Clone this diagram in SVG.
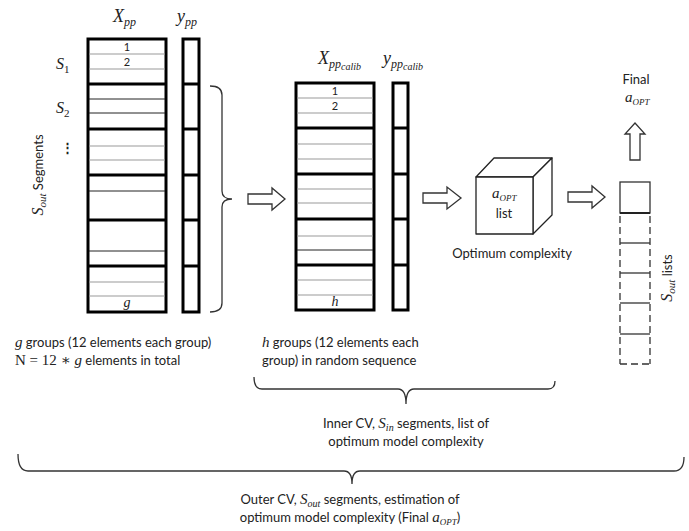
<svg xmlns="http://www.w3.org/2000/svg" width="689" height="531" viewBox="0 0 689 531">
<style>
.t{font-family:Lato,"Liberation Sans",sans-serif;font-size:13px;fill:#222}
.m{font-family:"Liberation Serif","DejaVu Serif",serif;font-style:italic;fill:#222}
.u{font-family:"Liberation Serif","DejaVu Serif",serif;font-style:normal;fill:#222}
.n{font-family:Lato,"Liberation Sans",sans-serif;font-size:11px;fill:#222}
.box{fill:#fff;stroke:#000;stroke-width:3}
.sep{stroke:#000;stroke-width:3}
.thin{stroke:#999;stroke-width:1}
.thd{stroke:#222;stroke-width:1}
.arr{fill:#fff;stroke:#333;stroke-width:1.3}
.br{fill:none;stroke:#333;stroke-width:1.3}
.cube{fill:#fff;stroke:#222;stroke-width:1.3;stroke-linejoin:round}
.dash{stroke:#333;stroke-width:1.3;stroke-dasharray:7,4}
</style>
<rect width="689" height="531" fill="#fff"/>

<g id="labels-left">
<text class="m" x="113" y="22" font-size="18">X<tspan font-size="12" dy="4">pp</tspan></text>
<text class="m" x="177" y="22" font-size="18">y<tspan font-size="12" dy="4">pp</tspan></text>
<text class="m" x="56" y="69" font-size="16">S<tspan class="u" font-size="11" dy="4">1</tspan></text>
<text class="m" x="56" y="113" font-size="16">S<tspan class="u" font-size="11" dy="4">2</tspan></text>
<text class="t" x="67" y="152" text-anchor="middle" font-weight="bold">⋮</text>
<text class="t" transform="translate(43,175) rotate(-90)" text-anchor="middle"><tspan class="m" font-size="16">S</tspan><tspan class="m" font-size="11" dy="3">out</tspan><tspan dy="-3"> Segments</tspan></text>
</g>

<g id="matrix-xpp">
<rect class="box" x="88" y="39" width="78" height="273"/>
<line class="thin" x1="89" y1="54" x2="165" y2="54"/>
<line class="thin" x1="89" y1="69" x2="165" y2="69"/>
<line class="thd" x1="89" y1="99" x2="165" y2="99"/>
<line class="thd" x1="89" y1="113" x2="165" y2="113"/>
<line class="thin" x1="89" y1="146" x2="165" y2="146"/>
<line class="thin" x1="89" y1="160" x2="165" y2="160"/>
<line class="thd" x1="89" y1="191" x2="165" y2="191"/>
<line class="thd" x1="89" y1="251" x2="165" y2="251"/>
<line class="thin" x1="89" y1="282" x2="165" y2="282"/>
<line class="thin" x1="89" y1="296" x2="165" y2="296"/>
<line class="sep" x1="88" y1="84" x2="166" y2="84"/>
<line class="sep" x1="88" y1="129" x2="166" y2="129"/>
<line class="sep" x1="88" y1="175" x2="166" y2="175"/>
<line class="sep" x1="88" y1="220" x2="166" y2="220"/>
<line class="sep" x1="88" y1="266" x2="166" y2="266"/>
<text class="n" x="127" y="51" text-anchor="middle">1</text>
<text class="n" x="127" y="66" text-anchor="middle">2</text>
<text class="m" x="127" y="307" font-size="14" text-anchor="middle">g</text>
</g>

<g id="column-ypp">
<rect class="box" x="183" y="39" width="16" height="273"/>
<line class="sep" x1="183" y1="84" x2="199" y2="84"/>
<line class="sep" x1="183" y1="129" x2="199" y2="129"/>
<line class="sep" x1="183" y1="175" x2="199" y2="175"/>
<line class="sep" x1="183" y1="220" x2="199" y2="220"/>
<line class="sep" x1="183" y1="266" x2="199" y2="266"/>
</g>

<g id="labels-mid">
<text class="m" x="318" y="64" font-size="18">X<tspan font-size="12" dy="4">pp</tspan><tspan font-size="10" dy="2">calib</tspan></text>
<text class="m" x="383" y="64" font-size="18">y<tspan font-size="12" dy="4">pp</tspan><tspan font-size="10" dy="2">calib</tspan></text>
</g>

<g id="matrix-xcalib">
<rect class="box" x="296" y="83" width="78" height="227"/>
<line class="thin" x1="297" y1="98" x2="373" y2="98"/>
<line class="thin" x1="297" y1="113" x2="373" y2="113"/>
<line class="thin" x1="297" y1="144" x2="373" y2="144"/>
<line class="thin" x1="297" y1="159" x2="373" y2="159"/>
<line class="thin" x1="297" y1="189" x2="373" y2="189"/>
<line class="thin" x1="297" y1="203" x2="373" y2="203"/>
<line class="thin" x1="297" y1="236" x2="373" y2="236"/>
<line class="thd" x1="297" y1="250" x2="373" y2="250"/>
<line class="thin" x1="297" y1="280" x2="373" y2="280"/>
<line class="thin" x1="297" y1="295" x2="373" y2="295"/>
<line class="sep" x1="296" y1="128" x2="374" y2="128"/>
<line class="sep" x1="296" y1="174" x2="374" y2="174"/>
<line class="sep" x1="296" y1="219" x2="374" y2="219"/>
<line class="sep" x1="296" y1="265" x2="374" y2="265"/>
<text class="n" x="335" y="95" text-anchor="middle">1</text>
<text class="n" x="335" y="110" text-anchor="middle">2</text>
<text class="m" x="335" y="306" font-size="14" text-anchor="middle">h</text>
</g>

<g id="column-ycalib">
<rect class="box" x="393" y="83" width="15" height="227"/>
<line class="sep" x1="393" y1="128" x2="408" y2="128"/>
<line class="sep" x1="393" y1="174" x2="408" y2="174"/>
<line class="sep" x1="393" y1="219" x2="408" y2="219"/>
<line class="sep" x1="393" y1="265" x2="408" y2="265"/>
</g>

<g id="cube">
<polygon class="cube" points="476,177 494,158 552,158 533,177"/>
<polygon class="cube" points="533,177 552,158 552,215 533,234"/>
<rect class="cube" x="476" y="177" width="57" height="57"/>
<text class="m" x="492" y="198" font-size="15">a<tspan font-size="9" dy="3">OPT</tspan></text>
<text class="t" x="504" y="218" text-anchor="middle">list</text>
<text class="t" x="512" y="258" text-anchor="middle">Optimum complexity</text>
</g>

<g id="sout-lists">
<rect x="620" y="182" width="30" height="31" fill="#fff" stroke="#333" stroke-width="1.3"/>
<line x1="620" y1="213" x2="650" y2="213" stroke="#222" stroke-width="2"/>
<line x1="620" y1="243" x2="650" y2="243" stroke="#333" stroke-width="1.3"/>
<line x1="620" y1="273" x2="650" y2="273" stroke="#333" stroke-width="1.3"/>
<line x1="620" y1="303" x2="650" y2="303" stroke="#333" stroke-width="1.3"/>
<line x1="620" y1="334" x2="650" y2="334" stroke="#333" stroke-width="1.3"/>
<line class="dash" x1="620" y1="216" x2="620" y2="364"/>
<line class="dash" x1="650" y1="216" x2="650" y2="364"/>
<line class="dash" x1="620" y1="364" x2="650" y2="364"/>
<text class="t" transform="translate(672,278) rotate(-90)" text-anchor="middle"><tspan class="m" font-size="16">S</tspan><tspan class="m" font-size="11" dy="3">out</tspan><tspan dy="-3"> lists</tspan></text>
</g>

<g id="final">
<text class="t" x="636" y="84" text-anchor="middle">Final</text>
<text class="m" x="625" y="102" font-size="15">a<tspan font-size="9" dy="3">OPT</tspan></text>
</g>

<g id="connectors">
<path class="br" d="M210,86 Q222,86 222,95 L222,191 Q222,199 232,199 Q222,199 222,207 L222,303 Q222,312 210,312"/>
<path class="arr" d="M248,194 L272,194 L272,188 L285,199 L272,210 L272,204 L248,204 Z"/>
<path class="arr" d="M423,193 L447,193 L447,187 L461,198 L447,209 L447,203 L423,203 Z"/>
<path class="arr" d="M568,192 L592,192 L592,186 L605,197 L592,208 L592,202 L568,202 Z"/>
<path class="arr" d="M630,160 L630,134 L625,134 L635,123 L645,134 L640,134 L640,160 Z"/>
<path class="br" d="M254,377 Q254,389 262,389 L398,389 Q406,389 406,404 Q406,389 414,389 L548,389 Q555,389 555,381"/>
<path class="br" d="M18,454 Q18,471 28,471 L344,471 Q352,471 352,484 Q352,471 360,471 L674,471 Q684,471 684,457"/>
</g>

<g id="captions">
<text class="t" x="15" y="347" font-size="12.6"><tspan class="m" font-size="15">g</tspan> groups (12 elements each group)</text>
<text class="t" x="15" y="365" font-size="12.6"><tspan class="u" font-size="15">N = 12 ∗ </tspan><tspan class="m" font-size="15">g</tspan> elements in total</text>
<text class="t" x="262" y="347"><tspan class="m" font-size="15">h</tspan> groups (12 elements each</text>
<text class="t" x="262" y="365">group) in random sequence</text>
<text class="t" x="406" y="428" text-anchor="middle">Inner CV, <tspan class="m" font-size="15">S</tspan><tspan class="m" font-size="10" dy="3">in</tspan><tspan dy="-3"> segments, list of</tspan></text>
<text class="t" x="406" y="446" text-anchor="middle">optimum model complexity</text>
<text class="t" x="350" y="504" text-anchor="middle">Outer CV, <tspan class="m" font-size="15">S</tspan><tspan class="m" font-size="10" dy="3">out</tspan><tspan dy="-3"> segments, estimation of</tspan></text>
<text class="t" x="350" y="522" text-anchor="middle">optimum model complexity (Final <tspan class="m" font-size="15">a</tspan><tspan class="m" font-size="9" dy="3">OPT</tspan><tspan dy="-3">)</tspan></text>
</g>
</svg>
